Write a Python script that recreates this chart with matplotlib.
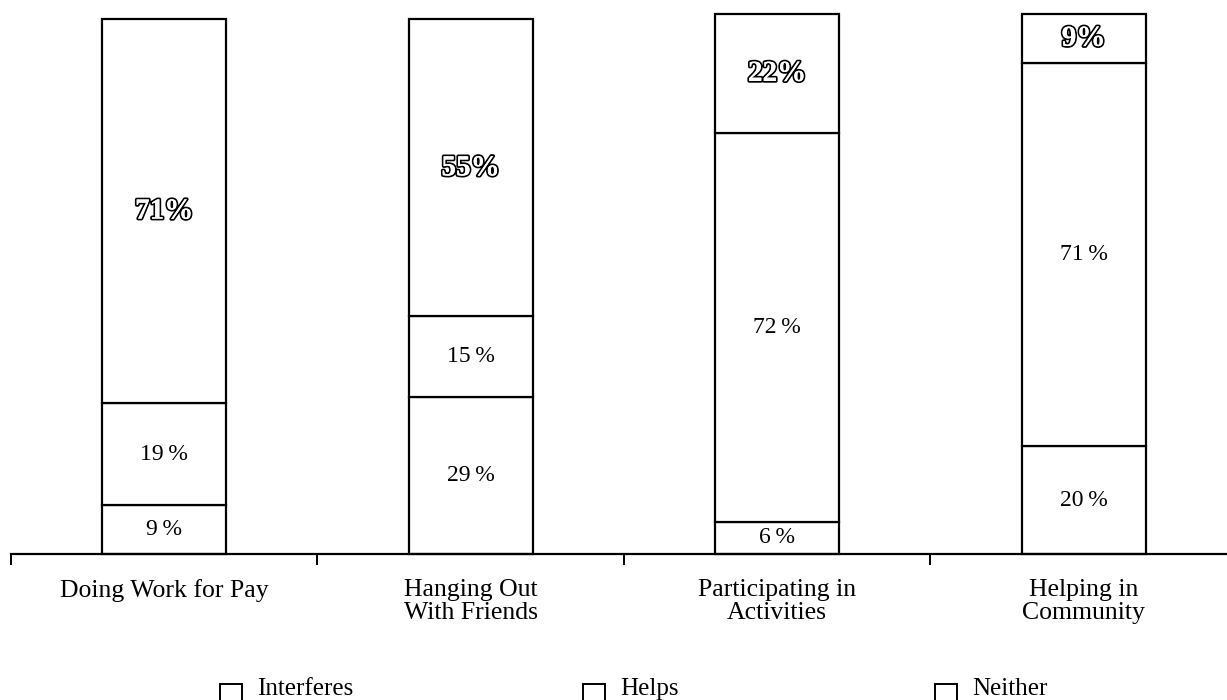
import matplotlib.pyplot as plt
import matplotlib.patheffects as pe
from matplotlib.patches import Rectangle

plt.rcParams['font.family'] = ['Liberation Serif', 'DejaVu Serif']

categories = ['Doing Work for Pay', 'Hanging Out\nWith Friends',
              'Participating in\nActivities', 'Helping in\nCommunity']
interferes = [9, 29, 6, 20]
helps = [19, 15, 72, 71]
neither = [71, 55, 22, 9]
series_names = ['Interferes', 'Helps', 'Neither']

fig = plt.figure(figsize=(12.27, 7), dpi=100)
ax = fig.add_axes([11 / 1227, 146 / 700, 1216 / 1227, 540 / 700])

x = range(len(categories))
w = 0.405
bottoms = [0] * len(categories)
for name, vals in zip(series_names, [interferes, helps, neither]):
    ax.bar(x, vals, w, bottom=bottoms, color='white', edgecolor='black',
           linewidth=1.6, clip_on=False)
    for i, v in enumerate(vals):
        yc = bottoms[i] + v / 2
        if name == 'Neither':
            t = ax.text(i, yc, '%d%%' % v, ha='center', va='center', fontsize=21,
                        fontweight='bold', color='white')
            t.set_path_effects([pe.withStroke(linewidth=2.6, foreground='black'), pe.Normal()])
        else:
            ax.text(i, yc, '%d\u2009%%' % v, ha='center', va='center', fontsize=17)
    bottoms = [b + v for b, v in zip(bottoms, vals)]

ax.set_xlim(-0.5, 3.468)
ax.set_ylim(0, 100)
for s in ['top', 'right', 'left']:
    ax.spines[s].set_visible(False)
ax.spines['bottom'].set_linewidth(1.6)
ax.set_yticks([])
ax.set_xticks([-0.5, 0.5, 1.5, 2.5])
ax.set_xticklabels([])
ax.tick_params(axis='x', length=8, width=1.4, direction='out')
for i, c in enumerate(categories):
    ax.text(i, -4.6, c, ha='center', va='top', fontsize=18.5, linespacing=1.05)

# legend (sits on the bottom edge, as in the original)
leg_x = [220, 583, 935]
for lx, name in zip(leg_x, series_names):
    fig.patches.append(Rectangle((lx / 1227, -3 / 700), 22 / 1227, 19 / 700,
                                 transform=fig.transFigure, facecolor='white',
                                 edgecolor='black', linewidth=1.4))
    fig.text((lx + 37) / 1227, 5 / 700, name, ha='left', va='baseline',
             fontsize=18)

fig.savefig('out.png', dpi=100)
